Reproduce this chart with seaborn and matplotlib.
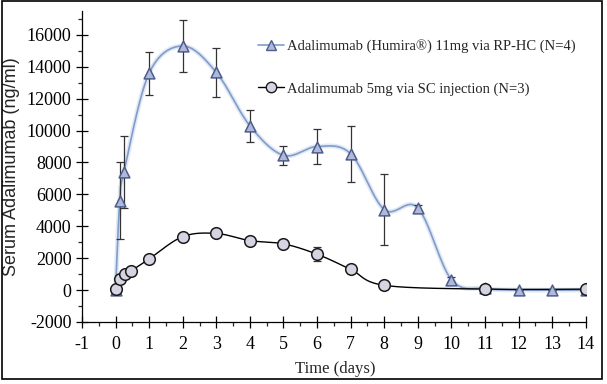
import numpy as np
import pandas as pd
import matplotlib
matplotlib.use('Agg')
import matplotlib.pyplot as plt
import matplotlib.patheffects as pe
from matplotlib.lines import Line2D
from matplotlib.patches import Rectangle
from matplotlib.ticker import MultipleLocator
import seaborn as sns

# Adalimumab (Humira) 11mg via RP-HC, N=4
rp_time = [0, 0.125, 0.25, 1, 2, 3, 4, 5, 6, 7, 8, 9, 10, 11, 12, 13, 14]
rp_conc = [0, 5600, 7400, 13600, 15300, 13650, 10300, 8450, 9000, 8550, 5050, 5150, 650, 100, 0, 0, 0]
rp_sd = [0, 2400, 2250, 1350, 1650, 1550, 1000, 580, 1100, 1750, 2200, 200, 150, 0, 0, 0, 0]

# Adalimumab 5mg via SC injection, N=3
sc_time = [0, 0.125, 0.29, 0.46, 1, 2, 3, 4, 5, 6, 7, 8, 11, 14]
sc_conc = [50, 700, 1000, 1200, 1950, 3350, 3550, 3100, 2900, 2250, 1300, 300, 60, 60]
sc_sd = [0, 0, 0, 0, 100, 150, 100, 150, 150, 450, 150, 50, 0, 0]

rp_label = 'Adalimumab (Humira®) 11mg via RP-HC (N=4)'
sc_label = 'Adalimumab 5mg via SC injection (N=3)'


def smooth(x, y, n=30):
    """Excel style smoothed line (bezier through the points)"""
    x = np.asarray(x, float)
    y = np.asarray(y, float)
    xs, ys = [], []
    t = np.linspace(0, 1, n)
    for i in range(len(x) - 1):
        i0 = max(i - 1, 0)
        i3 = min(i + 2, len(x) - 1)
        p1 = np.array([x[i], y[i]])
        p2 = np.array([x[i + 1], y[i + 1]])
        b1 = p1 + (p2 - np.array([x[i0], y[i0]])) / 6
        b2 = p2 - (np.array([x[i3], y[i3]]) - p1) / 6
        pts = ((1 - t) ** 3)[:, None] * p1 + (3 * (1 - t) ** 2 * t)[:, None] * b1 \
            + (3 * (1 - t) * t ** 2)[:, None] * b2 + (t ** 3)[:, None] * p2
        xs.extend(pts[:, 0])
        ys.extend(pts[:, 1])
    return np.array(xs), np.array(ys)


sns.set_style('ticks')
plt.rcParams['font.family'] = ['Liberation Serif', 'DejaVu Serif']
plt.rcParams['axes.unicode_minus'] = False

fig = plt.figure(figsize=(6.07, 3.84), dpi=100)
ax = fig.add_axes([0.135, 0.1615, 0.830, 0.81])

rp_col = '#7f9ccb'
rp_face = '#b0b8dc'
rp_edge = '#4d5d8a'
sc_face = '#d6d3e2'

# smoothed lines
xs, ys = smooth(rp_time, rp_conc)
ax.plot(xs, ys, color=rp_col, lw=1.2, zorder=2,
        path_effects=[pe.Stroke(linewidth=3.5, foreground='#e2e9f5'), pe.Normal()])
xs, ys = smooth(sc_time, sc_conc)
ax.plot(xs, ys, color='black', lw=1.0, zorder=2)

# error bars
ax.errorbar(rp_time, rp_conc, yerr=rp_sd, fmt='none', ecolor='#333333',
            elinewidth=0.9, capsize=3, capthick=0.9, zorder=3)
ax.errorbar(sc_time, sc_conc, yerr=sc_sd, fmt='none', ecolor='#333333',
            elinewidth=0.9, capsize=3, capthick=0.9, zorder=3)

rp_df = pd.DataFrame({'t': rp_time, 'c': rp_conc})
sc_df = pd.DataFrame({'t': sc_time, 'c': sc_conc})
sns.scatterplot(data=rp_df, x='t', y='c', marker='^', s=60, color=rp_face,
                edgecolor=rp_edge, linewidth=1.1, zorder=4, ax=ax)
sns.scatterplot(data=sc_df, x='t', y='c', marker='o', s=70, color=sc_face,
                edgecolor='#1a1a1a', linewidth=1.1, zorder=5, ax=ax)

ax.set_xlim(-1, 14)
ax.set_ylim(-2000, 17500)
ax.xaxis.set_major_locator(MultipleLocator(1))
ax.xaxis.set_minor_locator(MultipleLocator(0.5))
ax.yaxis.set_major_locator(MultipleLocator(2000))
ax.yaxis.set_minor_locator(MultipleLocator(1000))
ax.tick_params(which='major', direction='inout', length=8, width=0.9,
               labelsize=13, colors='black')
ax.tick_params(which='minor', direction='out', length=3, width=0.9)
ax.tick_params(axis='x', pad=6)
for s in ['top', 'right']:
    ax.spines[s].set_visible(False)
for s in ['left', 'bottom']:
    ax.spines[s].set_linewidth(0.9)
    ax.spines[s].set_color('black')

ax.set_xlabel('Time (days)', fontsize=12)
ax.set_ylabel('Serum Adalimumab (ng/ml)', fontsize=13, family='Liberation Sans')
ax.xaxis.label.set_va('center')
ax.yaxis.label.set_va('center')
ax.xaxis.set_label_coords(0.502, -0.151)
ax.yaxis.set_label_coords(-0.139, 0.5)

handles = [
    Line2D([], [], color=rp_col, lw=1.2, marker='^', markersize=7.5,
           markerfacecolor=rp_face, markeredgecolor=rp_edge),
    Line2D([], [], color='black', lw=1.0, marker='o', markersize=7.5,
           markerfacecolor=sc_face, markeredgecolor='#1a1a1a'),
]
ax.legend(handles, [rp_label, sc_label], loc='upper left',
          bbox_to_anchor=(0.349, 0.91), frameon=False, fontsize=10.5,
          handlelength=1.8, handletextpad=0.2, labelspacing=2.0,
          borderpad=0, borderaxespad=0)

fig.patches.append(Rectangle((2 / 607, 5 / 384), 600 / 607, 378 / 384,
                             transform=fig.transFigure, fill=False,
                             edgecolor='black', linewidth=1.2))

fig.savefig('out.png', dpi=100)
